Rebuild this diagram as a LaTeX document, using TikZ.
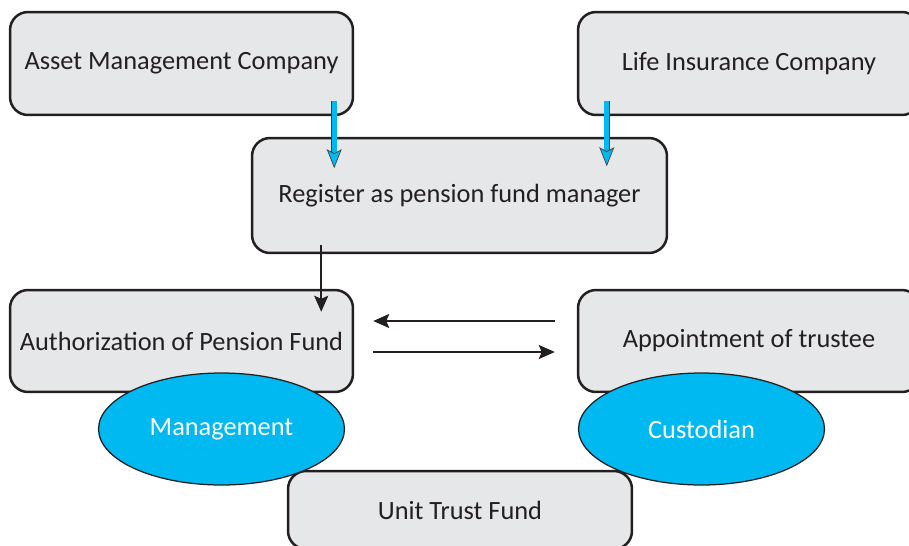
\documentclass[tikz,border=0pt]{standalone}
\usepackage{fontspec}
\setmainfont{Carlito}
\usetikzlibrary{shapes}
\usetikzlibrary{arrows.meta}
\usetikzlibrary{calc}
\definecolor{box_gray}{HTML}{E6E7E8}
\definecolor{ink}{HTML}{231F20}
\definecolor{sky}{HTML}{00B9F1}
\tikzset{
	boxnode/.style = {
		align=center,
		rectangle,
		rounded corners=0.36cm,
		draw=ink,
		fill=box_gray,
		line width=0.05cm,
		text=ink,
		font=\fontsize{15}{18}\selectfont,
		inner sep=0pt
	},
	node_wide/.style = {
		boxnode,
		minimum width=6.86cm,
		minimum height=2.06cm
	},
	node_reg/.style = {
		boxnode,
		minimum width=8.3cm,
		minimum height=2.3cm
	},
	node_role/.style = {
		ellipse,
		draw=ink,
		fill=sky,
		line width=0.025cm,
		text=white,
		font=\fontsize{15}{18}\selectfont,
		minimum width=4.92cm,
		minimum height=2.24cm,
		inner sep=0pt
	},
	blue_arrow/.style = {
		draw=ink!85,
		line width=0.014cm,
		double=sky,
		double distance=0.1cm,
		-{Stealth[length=0.38cm, width=0.3cm, inset=0.08cm, fill=sky]}
	},
	black_arrow/.style = {
		draw=ink,
		line width=0.04cm,
		-{Stealth[length=0.32cm, width=0.28cm, inset=0.06cm]}
	},
}

\begin{document}
\begin{tikzpicture}[x=0.02cm, y=-0.02cm]
\useasboundingbox (0,0) rectangle (909,545);

% boxes
\node [node_wide] (amc) at (181.5,63.5) {Asset Management Company};
\node [node_wide, minimum width=6.84cm] (lic) at (749,63.5) {Life Insurance Company};
\node [node_reg] (reg) at (459.5,195.5) {Register as pension fund manager};
\node [node_wide, minimum height=2.04cm] (auth) at (181.5,341) {Authorization of Pension Fund};
\node [node_wide, minimum width=6.84cm, minimum height=2.04cm] (appt) at (749,341) {Appointment of trustee};
\node [node_wide, minimum width=6.88cm, minimum height=1.56cm] (utf) at (460,510) {Unit Trust Fund};

% roles
\node [node_role] (mgmt) at (221.5,429) {Management};
\node [node_role] (cust) at (701.5,429) {Custodian};

% arrows
\draw [blue_arrow] ($(amc.south east)+(-20,-15)$) -- ($(amc.south east)+(-20,52)$);
\draw [blue_arrow] ($(lic.south west)+(30,-15)$) -- ($(lic.south west)+(30,50)$);
\draw [black_arrow] ($(auth.north east)+(-33,-44)$) -- ($(auth.north east)+(-33,23)$);
\draw [black_arrow] ($(appt.west)+(-22,-20)$) -- ($(auth.east)+(19,-20)$);
\draw [black_arrow] ($(auth.east)+(19,11)$) -- ($(appt.west)+(-22,11)$);
\end{tikzpicture}
\end{document}
